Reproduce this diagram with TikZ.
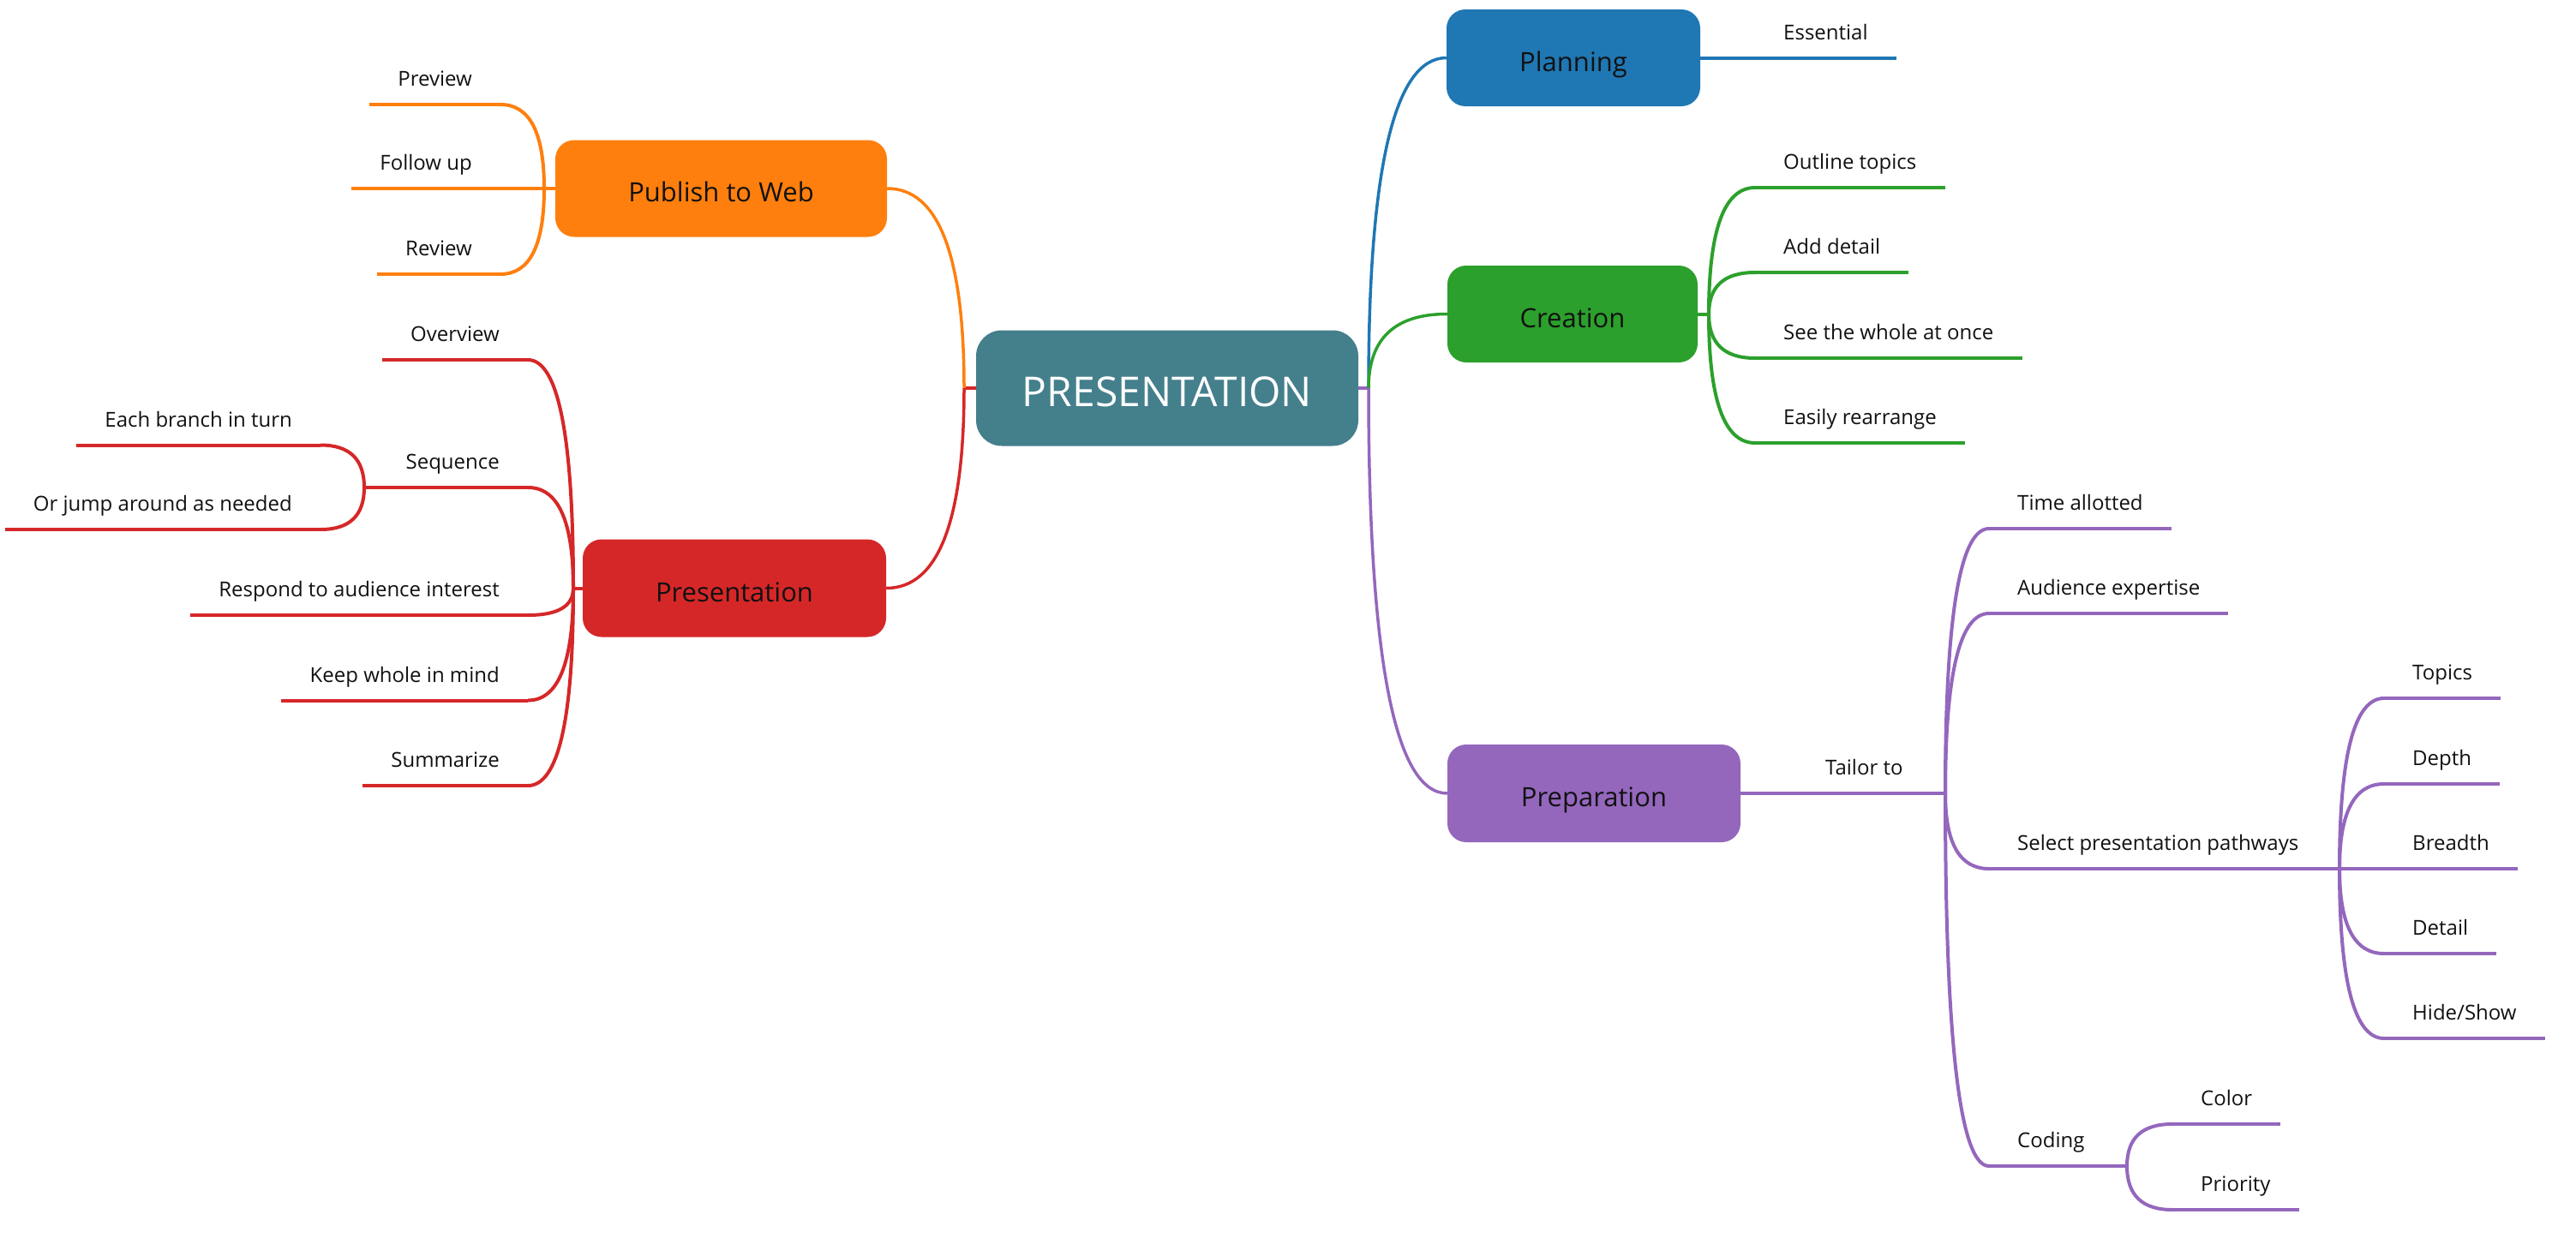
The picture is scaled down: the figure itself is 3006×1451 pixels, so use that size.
\documentclass[tikz,border=0pt]{standalone}
\usepackage{fontspec}
\setmainfont{Open Sans}
\usetikzlibrary{calc}
\definecolor{cCentral}{HTML}{447F8C}
\definecolor{cBlue}{HTML}{1F77B4}
\definecolor{cGreen}{HTML}{2CA02C}
\definecolor{cRed}{HTML}{D62728}
\definecolor{cOrange}{HTML}{FF7F0E}
\definecolor{cPurple}{HTML}{9467BD}
\definecolor{cText}{HTML}{111111}
% curved connector: leaves start vertically, arrives horizontally
\newcommand{\conn}[3]{\draw[#1] (#2) .. controls ($(#2)!0.667!(#2|-#3)$) and ($(#3)!0.667!(#2|-#3)$) .. (#3);}
\tikzset{
  mainbox/.style={rounded corners=22pt, inner sep=0pt, minimum height=113pt,
    text height=31pt, text depth=0pt,
    font=\fontsize{31}{37}\selectfont, text=cText},
  centralbox/.style={rounded corners=30pt, inner sep=0pt, fill=cCentral,
    minimum width=446pt, minimum height=135pt, text height=42pt, text depth=0pt,
    font=\fontsize{48}{58}\selectfont, text=white},
  leaf/.style={inner xsep=33pt, inner ysep=0pt, text height=17pt, text depth=21pt,
    font=\fontsize{24}{29}\selectfont, text=cText},
  leafR/.style={leaf, anchor=south west},
  leafL/.style={leaf, anchor=south east},
  ln/.style={line width=4pt},
  lnc/.style={line width=3.5pt},
}
\begin{document}
\begin{tikzpicture}[x=1pt,y=-1pt]
\useasboundingbox (0,0) rectangle (3006,1451);

% ---------- main topics ----------
\node[centralbox] (c) at (1362,453) {PRESENTATION};
\node[mainbox, fill=cBlue, minimum width=296pt] (pl) at (1836,67.5) {Planning};
\node[mainbox, fill=cGreen, minimum width=292pt] (cr) at (1835,366.5) {Creation};
\node[mainbox, fill=cPurple, minimum width=342pt, minimum height=114pt] (pr) at (1860,926) {Preparation};
\node[mainbox, fill=cOrange, minimum width=387pt] (pu) at (841.5,220) {Publish to Web};
\node[mainbox, fill=cRed, minimum width=354pt, minimum height=114pt] (ps) at (857,686.5) {Presentation};

\coordinate (jR) at (1597,453);
\coordinate (jL) at (1125,453);

% ---------- leaves ----------
\node[leafR] (es) at (2048,67.5) {Essential};

\coordinate (jC) at (1994,366.5);
\node[leafR] (o1) at (2048,219) {Outline topics};
\node[leafR] (o2) at (2048,318) {Add detail};
\node[leafR] (o3) at (2048,418) {See the whole at once};
\node[leafR] (o4) at (2048,517) {Easily rearrange};

\node[leafR] (tt) at (2097,926) {Tailor to};
\coordinate (jT) at (2270,926);
\node[leafR] (t1) at (2321,617) {Time allotted};
\node[leafR] (t2) at (2321,716) {Audience expertise};
\node[leafR] (t3) at (2321,1014) {Select presentation pathways};
\node[leafR] (t4) at (2321,1361) {Coding};
\coordinate (jSel) at (2730,1014);
\node[leafR] (s1) at (2782,815) {Topics};
\node[leafR] (s2) at (2782,915) {Depth};
\node[leafR] (s3) at (2782,1014) {Breadth};
\node[leafR] (s4) at (2782,1113) {Detail};
\node[leafR] (s5) at (2782,1212) {Hide/Show};
\coordinate (jCod) at (2482,1361);
\node[leafR] (k1) at (2535,1312) {Color};
\node[leafR] (k2) at (2535,1412) {Priority};

\coordinate (jP) at (635,220);
\node[leafL] (p1) at (584,122) {Preview};
\node[leafL] (p2) at (584,220) {Follow up};
\node[leafL] (p3) at (584,320) {Review};

\coordinate (jQ) at (669,686.5);
\node[leafL] (q1) at (616,420) {Overview};
\node[leafL] (q2) at (616,569) {Sequence};
\node[leafL] (q3) at (616,718) {Respond to audience interest};
\node[leafL] (q4) at (616,817.5) {Keep whole in mind};
\node[leafL] (q5) at (616,917) {Summarize};
\coordinate (jSq) at (425,569);
\node[leafL] (e1) at (374,519.5) {Each branch in turn};
\node[leafL] (e2) at (374,618) {Or jump around as needed};

% ---------- connectors from the central topic ----------
\draw[cPurple,lnc] (c.east) -- (jR);
\draw[cRed,lnc] (c.west) -- (jL);
\conn{cBlue,lnc}{jR}{pl.west}
\conn{cGreen,lnc}{jR}{cr.west}
\conn{cPurple,lnc}{jR}{pr.west}
\conn{cOrange,lnc}{jL}{pu.east}
\conn{cRed,lnc}{jL}{ps.east}

% ---------- Planning ----------
\draw[cBlue,ln] (pl.east) -- (es.south west) -- (es.south east);

% ---------- Creation ----------
\draw[cGreen,ln] (cr.east) -- (jC);
\foreach \n in {o1,o2,o3,o4}{
  \conn{cGreen,ln}{jC}{\n.south west}
  \draw[cGreen,ln] (\n.south west) -- (\n.south east);
}

% ---------- Preparation ----------
\draw[cPurple,ln] (pr.east) -- (tt.south west) -- (tt.south east) -- (jT);
\foreach \n in {t1,t2,t3,t4}{
  \conn{cPurple,ln}{jT}{\n.south west}
  \draw[cPurple,ln] (\n.south west) -- (\n.south east);
}
\draw[cPurple,ln] (t3.south east) -- (jSel);
\foreach \n in {s1,s2,s3,s4,s5}{
  \conn{cPurple,ln}{jSel}{\n.south west}
  \draw[cPurple,ln] (\n.south west) -- (\n.south east);
}
\draw[cPurple,ln] (t4.south east) -- (jCod);
\foreach \n in {k1,k2}{
  \conn{cPurple,ln}{jCod}{\n.south west}
  \draw[cPurple,ln] (\n.south west) -- (\n.south east);
}

% ---------- Publish to Web ----------
\draw[cOrange,ln] (pu.west) -- (jP);
\foreach \n in {p1,p2,p3}{
  \conn{cOrange,ln}{jP}{\n.south east}
  \draw[cOrange,ln] (\n.south east) -- (\n.south west);
}

% ---------- Presentation ----------
\draw[cRed,ln] (ps.west) -- (jQ);
\foreach \n in {q1,q2,q3,q4,q5}{
  \conn{cRed,ln}{jQ}{\n.south east}
  \draw[cRed,ln] (\n.south east) -- (\n.south west);
}
\draw[cRed,ln] (q2.south west) -- (jSq);
\foreach \n in {e1,e2}{
  \conn{cRed,ln}{jSq}{\n.south east}
  \draw[cRed,ln] (\n.south east) -- (\n.south west);
}
\end{tikzpicture}
\end{document}
